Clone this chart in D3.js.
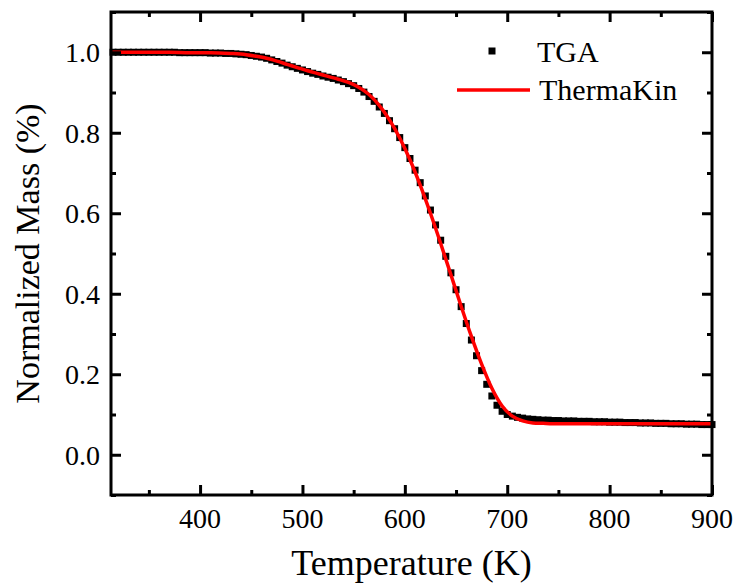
<!DOCTYPE html>
<html>
<head>
<meta charset="utf-8">
<script src="https://cdn.jsdelivr.net/npm/d3@7"></script>
</head>
<body style="margin:0">
<script>
// TGA measurements (every 5 K)
var tgaTemp = [
  315, 320, 325, 330, 335, 340, 345, 350, 355, 360,
  365, 370, 375, 380, 385, 390, 395, 400, 405, 410,
  415, 420, 425, 430, 435, 440, 445, 450, 455, 460,
  465, 470, 475, 480, 485, 490, 495, 500, 505, 510,
  515, 520, 525, 530, 535, 540, 545, 550, 555, 560,
  565, 570, 575, 580, 585, 590, 595, 600, 605, 610,
  615, 620, 625, 630, 635, 640, 645, 650, 655, 660,
  665, 670, 675, 680, 685, 690, 695, 700, 705, 710,
  715, 720, 725, 730, 735, 740, 745, 750, 755, 760,
  765, 770, 775, 780, 785, 790, 795, 800, 805, 810,
  815, 820, 825, 830, 835, 840, 845, 850, 855, 860,
  865, 870, 875, 880, 885, 890, 895, 900
];
var tgaMass = [
  1.000, 1.000, 1.000, 1.000, 1.000, 1.000, 1.000, 1.000, 1.000, 1.000,
  1.000, 1.000, 1.000, 0.999, 0.999, 0.999, 0.999, 0.999, 0.999, 0.998,
  0.998, 0.998, 0.997, 0.997, 0.996, 0.995, 0.994, 0.992, 0.990, 0.988,
  0.985, 0.981, 0.977, 0.973, 0.968, 0.964, 0.960, 0.956, 0.952, 0.948,
  0.945, 0.941, 0.938, 0.935, 0.931, 0.927, 0.922, 0.917, 0.910, 0.901,
  0.890, 0.878, 0.864, 0.848, 0.830, 0.810, 0.788, 0.763, 0.736, 0.707,
  0.676, 0.643, 0.608, 0.571, 0.533, 0.493, 0.452, 0.410, 0.368, 0.326,
  0.285, 0.246, 0.209, 0.175, 0.146, 0.123, 0.108, 0.100, 0.096, 0.093,
  0.091, 0.089, 0.088, 0.087, 0.086, 0.086, 0.085, 0.085, 0.084, 0.084,
  0.084, 0.083, 0.083, 0.083, 0.082, 0.082, 0.082, 0.081, 0.081, 0.081,
  0.080, 0.080, 0.080, 0.079, 0.079, 0.079, 0.078, 0.078, 0.078, 0.077,
  0.077, 0.077, 0.076, 0.076, 0.076, 0.075, 0.075, 0.075
];

// ThermaKin model curve
var tkTemp = [313, 330, 350, 370, 390, 410, 430, 445, 455, 465,
  475, 485, 495, 505, 515, 525, 535, 545, 555, 565,
  575, 585, 595, 605, 615, 625, 635, 645, 655, 665,
  675, 685, 695, 705, 715, 725, 735, 750, 800, 850, 900];
var tkMass = [1.000, 1.000, 1.000, 1.000, 0.999, 0.999, 0.997, 0.994, 0.990, 0.985,
  0.978, 0.970, 0.962, 0.954, 0.947, 0.940, 0.933, 0.925, 0.913, 0.895,
  0.868, 0.832, 0.787, 0.733, 0.670, 0.600, 0.525, 0.447, 0.369, 0.294,
  0.225, 0.165, 0.121, 0.096, 0.084, 0.079, 0.078, 0.077, 0.077, 0.077, 0.077];

var xTicks = [400, 500, 600, 700, 800, 900];
var xMinor = [350, 450, 550, 650, 750, 850];
var yTicks = [0.0, 0.2, 0.4, 0.6, 0.8, 1.0];
var yMinor = [-0.1, 0.1, 0.3, 0.5, 0.7, 0.9, 1.1];
var seriesNames = ['TGA', 'ThermaKin'];

var serif = "'Liberation Serif'";
var width = 737, height = 583;
var margin = { left: 111, right: 25, top: 12, bottom: 88 };
var chartWidth = width - margin.left - margin.right;
var chartHeight = height - margin.top - margin.bottom;

var xScale = d3.scaleLinear().domain([313, 900]).range([0, chartWidth]);
var yScale = d3.scaleLinear().domain([-0.1, 1.1]).range([chartHeight, 0]);

var svg = d3.select('body').append('svg')
    .attr('width', width)
    .attr('height', height);

var g = svg.append('g')
    .attr('transform', 'translate(' + margin.left + ',' + margin.top + ')');

// TGA squares
var tga = tgaTemp.map((t, i) => ({ x: t, y: tgaMass[i] }));
g.append('g').selectAll('rect')
    .data(tga)
    .enter().append('rect')
    .attr('x', d => xScale(d.x) - 3.5)
    .attr('y', d => yScale(d.y) - 3.5)
    .attr('width', 7)
    .attr('height', 7)
    .attr('fill', '#000');

// ThermaKin line
var tk = tkTemp.map((t, i) => ({ x: t, y: tkMass[i] }));
var line = d3.line()
    .x(d => xScale(d.x))
    .y(d => yScale(d.y))
    .curve(d3.curveMonotoneX);
g.append('path')
    .datum(tk)
    .attr('d', line)
    .attr('fill', 'none')
    .attr('stroke', '#ff0000')
    .attr('stroke-width', 3.5);

// ticks pointing inward on all four sides
function styleAxis(sel) {
  sel.select('.domain').remove();
  sel.selectAll('line').attr('stroke', '#000').attr('stroke-width', 3);
}

g.append('g').attr('transform', 'translate(0,' + chartHeight + ')')
    .call(d3.axisBottom(xScale).tickValues(xTicks).tickSize(-10).tickFormat('')).call(styleAxis);
g.append('g').attr('transform', 'translate(0,' + chartHeight + ')')
    .call(d3.axisBottom(xScale).tickValues(xMinor).tickSize(-5).tickFormat('')).call(styleAxis);
g.append('g').call(d3.axisTop(xScale).tickValues(xTicks).tickSize(-10).tickFormat('')).call(styleAxis);
g.append('g').call(d3.axisTop(xScale).tickValues(xMinor).tickSize(-5).tickFormat('')).call(styleAxis);
g.append('g').call(d3.axisLeft(yScale).tickValues(yTicks).tickSize(-10).tickFormat('')).call(styleAxis);
g.append('g').call(d3.axisLeft(yScale).tickValues(yMinor).tickSize(-5).tickFormat('')).call(styleAxis);
g.append('g').attr('transform', 'translate(' + chartWidth + ',0)')
    .call(d3.axisRight(yScale).tickValues(yTicks).tickSize(-10).tickFormat('')).call(styleAxis);
g.append('g').attr('transform', 'translate(' + chartWidth + ',0)')
    .call(d3.axisRight(yScale).tickValues(yMinor).tickSize(-5).tickFormat('')).call(styleAxis);

// tick labels
g.append('g').selectAll('text')
    .data(xTicks)
    .enter().append('text')
    .attr('x', d => xScale(d))
    .attr('y', chartHeight + 33)
    .attr('text-anchor', 'middle')
    .attr('font-family', serif)
    .attr('font-size', 28)
    .text(d => d3.format('d')(d));

g.append('g').selectAll('text')
    .data(yTicks)
    .enter().append('text')
    .attr('x', -11)
    .attr('y', d => yScale(d) + 10)
    .attr('text-anchor', 'end')
    .attr('font-family', serif)
    .attr('font-size', 28)
    .text(d => d3.format('.1f')(d));

// frame
g.append('rect')
    .attr('width', chartWidth)
    .attr('height', chartHeight)
    .attr('fill', 'none')
    .attr('stroke', '#000')
    .attr('stroke-width', 3);

// titles
svg.append('text')
    .attr('x', margin.left + chartWidth / 2)
    .attr('y', 575)
    .attr('text-anchor', 'middle')
    .attr('font-family', serif)
    .attr('font-size', 36)
    .text('Temperature (K)');

svg.append('text')
    .attr('transform', 'translate(39,' + (margin.top + chartHeight / 2) + ') rotate(-90)')
    .attr('text-anchor', 'middle')
    .attr('font-family', serif)
    .attr('font-size', 34)
    .text('Normalized Mass (%)');

// legend
var legend = svg.append('g');
legend.append('rect')
    .attr('x', 488.5).attr('y', 47.5)
    .attr('width', 7).attr('height', 7)
    .attr('fill', '#000');
legend.append('text')
    .attr('x', 537).attr('y', 62)
    .attr('font-family', serif)
    .attr('font-size', 30)
    .text(seriesNames[0]);
legend.append('line')
    .attr('x1', 457).attr('x2', 530)
    .attr('y1', 90).attr('y2', 90)
    .attr('stroke', '#ff0000')
    .attr('stroke-width', 3.5);
legend.append('text')
    .attr('x', 539).attr('y', 100)
    .attr('font-family', serif)
    .attr('font-size', 30)
    .text(seriesNames[1]);
</script>
</body>
</html>
